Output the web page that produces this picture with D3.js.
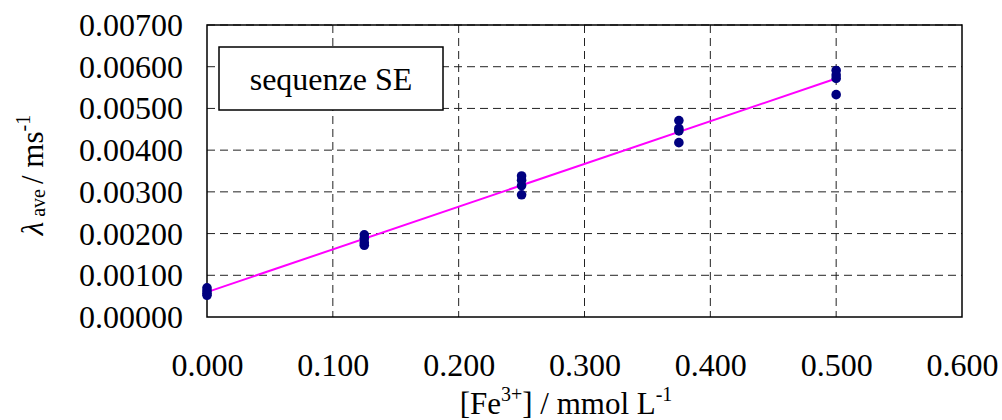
<!DOCTYPE html>
<html><head><meta charset="utf-8">
<script src="https://cdn.jsdelivr.net/npm/d3@7"></script>
<style>body{margin:0;background:#fff}</style>
</head><body>
<svg id="c" width="1002" height="420"></svg>
<script>
const concentrations = [0, 0.125, 0.25, 0.375, 0.5];
const lambdaValues = [
  [0.00052, 0.00057, 0.00063, 0.00070],
  [0.00172, 0.00178, 0.00188, 0.00197],
  [0.00293, 0.00315, 0.00328, 0.00338],
  [0.00418, 0.00446, 0.00452, 0.00471],
  [0.00533, 0.00572, 0.00580, 0.00591]
];
const xTicks = [0, 0.1, 0.2, 0.3, 0.4, 0.5, 0.6];
const yTicks = [0, 0.001, 0.002, 0.003, 0.004, 0.005, 0.006, 0.007];
const legendLabel = "sequenze SE";

const FF = "Liberation Serif";
const svg = d3.select("#c");
const L = 207, R = 962, T = 25, B = 317;
const x = d3.scaleLinear().domain([0, 0.6]).range([L, R]);
const y = d3.scaleLinear().domain([0, 0.007]).range([B, T]);

// grid
svg.append("g").selectAll("line").data(yTicks.filter(d => d > 0)).join("line")
  .attr("x1", L).attr("x2", R).attr("y1", d => y(d)).attr("y2", d => y(d))
  .attr("stroke", "#222").attr("stroke-width", 1).attr("stroke-dasharray", "8,5");
svg.append("g").selectAll("line").data(xTicks.filter(d => d > 0 && d < 0.6)).join("line")
  .attr("y1", T).attr("y2", B).attr("x1", d => x(d)).attr("x2", d => x(d))
  .attr("stroke", "#222").attr("stroke-width", 1).attr("stroke-dasharray", "8,5");

// frame
svg.append("rect").attr("x", L).attr("y", T).attr("width", R - L).attr("height", B - T)
  .attr("fill", "none").attr("stroke", "#000").attr("stroke-width", 1.5);

// axes labels via d3 axes
const yAxis = svg.append("g").attr("transform", `translate(${L},0)`)
  .call(d3.axisLeft(y).tickValues(yTicks).tickFormat(d3.format(".5f")).tickSize(0).tickPadding(24));
yAxis.attr("font-family", FF).attr("font-size", 32);
yAxis.select(".domain").remove();
yAxis.selectAll("text").attr("font-family", FF).attr("font-size", 32).attr("fill", "#000").attr("dy", "0.33em");

const xAxis = svg.append("g").attr("transform", `translate(0,${B})`)
  .call(d3.axisBottom(x).tickValues(xTicks).tickFormat(d3.format(".3f")).tickSize(0).tickPadding(36));
xAxis.attr("font-family", FF).attr("font-size", 32);
xAxis.select(".domain").remove();
xAxis.selectAll("text").attr("font-family", FF).attr("font-size", 32).attr("fill", "#000").attr("dy", "0.71em");

// regression line
const pts = [];
concentrations.forEach((c, i) => lambdaValues[i].forEach(v => pts.push([c, v])));
const mx = d3.mean(pts, p => p[0]), my = d3.mean(pts, p => p[1]);
const slope = d3.sum(pts, p => (p[0] - mx) * (p[1] - my)) / d3.sum(pts, p => (p[0] - mx) ** 2);
const icpt = my - slope * mx;
const x0 = d3.min(concentrations), x1 = d3.max(concentrations);
svg.append("line").attr("x1", x(x0)).attr("y1", y(icpt + slope * x0))
  .attr("x2", x(x1)).attr("y2", y(icpt + slope * x1))
  .attr("stroke", "#ff00ff").attr("stroke-width", 2);

// points
svg.append("g").selectAll("circle").data(pts).join("circle")
  .attr("cx", d => x(d[0])).attr("cy", d => y(d[1])).attr("r", 4.8)
  .attr("fill", "#000080");

// legend box
svg.append("rect").attr("x", 219).attr("y", 47).attr("width", 224).attr("height", 63)
  .attr("fill", "#fff").attr("stroke", "#000").attr("stroke-width", 1.5);
svg.append("text").attr("x", 331).attr("y", 90).attr("text-anchor", "middle")
  .attr("font-family", FF).attr("font-size", 32).text(legendLabel);

// x title
const xt = svg.append("text").attr("x", 566).attr("y", 414).attr("text-anchor", "middle")
  .attr("font-family", FF).attr("font-size", 31);
xt.append("tspan").text("[Fe");
xt.append("tspan").attr("font-size", 20).attr("dy", -13).text("3+");
xt.append("tspan").attr("dy", 13).text("] / mmol L");
xt.append("tspan").attr("font-size", 20).attr("dy", -13).text("-1");

// y title
const yt = svg.append("text").attr("transform", "translate(43,175) rotate(-90)").attr("text-anchor", "middle")
  .attr("font-family", FF).attr("font-size", 31);
yt.append("tspan").attr("font-style", "italic").text("λ");
yt.append("tspan").attr("font-size", 20).attr("dy", 2).text(" ave ");
yt.append("tspan").attr("dy", -2).text("/ ms");
yt.append("tspan").attr("font-size", 20).attr("dy", -13).text("-1");
</script>
</body></html>
